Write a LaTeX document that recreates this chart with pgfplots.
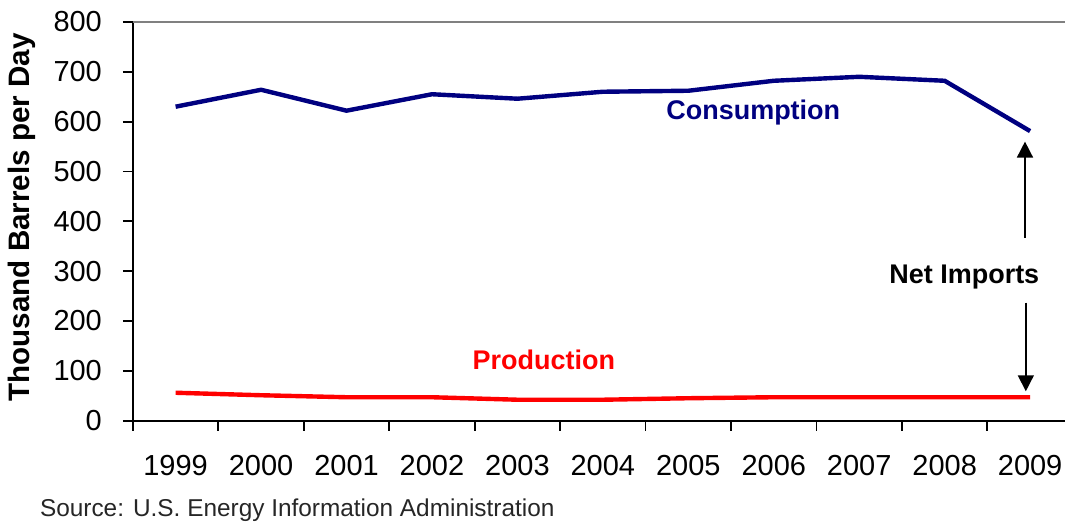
\documentclass[border=0pt]{standalone}
\usepackage{fontspec}
\setmainfont{Liberation Sans}
\usepackage{pgfplots}
\pgfplotsset{compat=1.18}
\usetikzlibrary{arrows.meta}

\definecolor{consblue}{RGB}{0,0,128}
\definecolor{prodred}{RGB}{255,0,0}

\begin{document}
\begin{tikzpicture}
\begin{axis}[
    at={(0,0)}, anchor=south west,
    scale only axis,
    width=466.5pt, height=199.5pt,
    xmin=-0.5, xmax=10.41,
    ymin=0, ymax=800,
    ytick={0,100,...,800},
    xtick={0,...,10},
    xticklabels={1999,2000,2001,2002,2003,2004,2005,2006,2007,2008,2009},
    minor xtick={-0.5,0.5,...,9.5},
    major x tick style={draw=none},
    axis x line*=bottom, axis y line*=left,
    axis line style={black, line width=0.9pt, -},
    tick style={black, line width=0.9pt},
    tick align=outside,
    major tick length=5pt, minor tick length=5pt,
    /pgf/number format/assume math mode=true,
    ticklabel style={font=\fontsize{14.5}{16}\selectfont},
    yticklabel style={xshift=-7pt},
    xticklabel style={yshift=-9pt},
    ylabel={Thousand Barrels per Day},
    ylabel style={font=\bfseries\fontsize{14.8}{16}\selectfont, at={(axis description cs:-0.119,0.51)}, anchor=center},
    clip=false,
]
\addplot[consblue, line width=2.2pt] coordinates {
    (0,630) (1,664) (2,622) (3,655) (4,646) (5,660) (6,662) (7,682) (8,690) (9,682) (10,581)
};
\addplot[prodred, line width=2.2pt] coordinates {
    (0,56) (1,51) (2,47) (3,47) (4,42) (5,42) (6,45) (7,47) (8,47) (9,47) (10,47)
};
\draw[gray, line width=0.9pt] (rel axis cs:0,1) -- (rel axis cs:1,1);
\node[font=\bfseries\fontsize{13.5}{15}\selectfont, text=consblue] at (axis cs:6.76,618) {Consumption};
\node[font=\bfseries\fontsize{13.5}{15}\selectfont, text=prodred] at (axis cs:4.31,122) {Production};
\node[font=\bfseries\fontsize{13.5}{15}\selectfont] at (axis cs:9.23,289) {Net Imports};
\draw[line width=0.8pt, -{Triangle[length=8pt,width=8pt]}] (axis cs:9.94,367) -- (axis cs:9.94,560);
\draw[line width=0.8pt, -{Triangle[length=8pt,width=8pt]}] (axis cs:9.95,237) -- (axis cs:9.95,59);
\end{axis}
\node[anchor=base west, font=\fontsize{12.2}{13}\selectfont, text=black!85] at (-50pt,-48pt) {Source: U.S. Energy Information Administration};
\path (-66.5pt,-54pt) rectangle (468pt,210.5pt);
\end{tikzpicture}
\end{document}
